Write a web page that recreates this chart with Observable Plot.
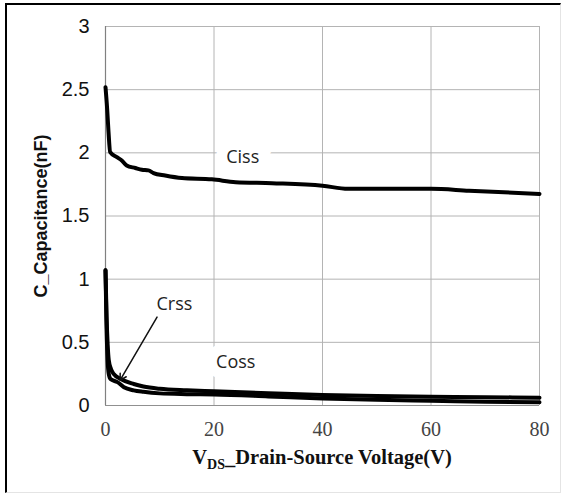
<!DOCTYPE html>
<html>
<head>
<meta charset="utf-8">
<script src="https://cdn.jsdelivr.net/npm/d3@7"></script>
<script src="https://cdn.jsdelivr.net/npm/@observablehq/plot@0.6"></script>
<style>
  html, body { margin: 0; padding: 0; background: #fff; }
  #wrap { position: relative; width: 567px; height: 496px; overflow: hidden; }
  #frame { position: absolute; left: 5px; top: 3px; width: 556px; height: 490px;
           border-top: 2px solid #000; border-left: 2px solid #000;
           border-right: 1px solid #e4e4e4; border-bottom: 1px solid #e4e4e4; box-sizing: border-box; }
  #chart { position: absolute; left: 0; top: 0; }
</style>
</head>
<body>
<div id="wrap"><div id="frame"></div><div id="chart"></div></div>
<script>
// ---- data ----
const xTicks = [0, 20, 40, 60, 80];
const yTicks = [0, 0.5, 1, 1.5, 2, 2.5, 3];

const cissV = [0, 0.3, 0.55, 0.86, 2.1, 3.0, 3.9, 5.5, 6.7, 7.9, 8.85, 11, 14.1, 19.6, 24, 30.7, 40, 44.7, 50.7, 60, 67, 80];
const cissC = [2.52, 2.35, 2.17, 2.006, 1.966, 1.94, 1.90, 1.88, 1.866, 1.861, 1.84, 1.82, 1.80, 1.79, 1.768, 1.76, 1.74, 1.715, 1.715, 1.715, 1.70, 1.675];

const cossV = [0, 0.2, 0.4, 0.6, 1.0, 1.5, 2.8, 5.2, 7, 10, 15, 20, 30, 40, 50, 60, 70, 80];
const cossC = [1.07, 0.7, 0.48, 0.36, 0.29, 0.25, 0.21, 0.17, 0.15, 0.132, 0.12, 0.112, 0.097, 0.083, 0.075, 0.07, 0.066, 0.062];

const crssV = [0, 0.2, 0.4, 0.6, 0.92, 2.2, 3.4, 5.2, 7, 10, 15, 20, 30, 40, 50, 60, 70, 80];
const crssC = [1.07, 0.6, 0.35, 0.25, 0.21, 0.185, 0.145, 0.12, 0.108, 0.096, 0.09, 0.087, 0.072, 0.055, 0.045, 0.038, 0.03, 0.025];

const labelNames = ["Ciss", "Crss", "Coss"];
const labelV = [25.3, 12.7, 24];
const labelC = [1.966, 0.80, 0.343];

const arrowFrom = [9.5, 0.70];
const arrowTo = [2.7, 0.20];

// ---- build tables ----
const toRows = (vs, cs) => vs.map((v, i) => ({v, c: cs[i]}));
const ciss = toRows(cissV, cissC);
const coss = toRows(cossV, cossC);
const crss = toRows(crssV, crssC);
const labels = labelNames.map((t, i) => ({t, v: labelV[i], c: labelC[i]}));
const arrows = [{x1: arrowFrom[0], y1: arrowFrom[1], x2: arrowTo[0], y2: arrowTo[1]}];

const plot = Plot.plot({
  width: 567,
  height: 496,
  marginLeft: 105,
  marginRight: 28,
  marginTop: 26,
  marginBottom: 91,
  style: {background: "transparent", overflow: "visible"},
  x: {domain: [0, 80], ticks: xTicks},
  y: {domain: [0, 3], ticks: yTicks},
  marks: [
    Plot.gridX(xTicks.filter(d => d > 0), {stroke: "#b4b4b4", strokeOpacity: 1, strokeWidth: 1}),
    Plot.gridY(yTicks.filter(d => d > 0), {stroke: "#b4b4b4", strokeOpacity: 1, strokeWidth: 1}),
    Plot.ruleX([0], {stroke: "#808080", strokeWidth: 1.2}),
    Plot.ruleY([0], {stroke: "#909090", strokeWidth: 1.2}),
    Plot.axisX({ticks: xTicks, tickSize: 0, tickPadding: 16, label: null,
      fontSize: 20, fontFamily: "Liberation Serif", fill: "#444", tickFormat: d => String(d)}),
    Plot.axisY({ticks: yTicks, tickSize: 0, tickPadding: 16, label: null,
      fontSize: 20, fontFamily: "Liberation Sans", fill: "#111", tickFormat: d => String(d)}),
    Plot.text(labels, {x: "v", y: "c", text: "t", fontSize: 18, fontFamily: "Open Sans",
      fill: "#222", stroke: "white", strokeWidth: 22, paintOrder: "stroke", strokeLinejoin: "miter"}),
    Plot.line(coss, {x: "v", y: "c", stroke: "#000", strokeWidth: 4, curve: "monotone-x"}),
    Plot.line(crss, {x: "v", y: "c", stroke: "#000", strokeWidth: 4, curve: "monotone-x"}),
    Plot.line(ciss, {x: "v", y: "c", stroke: "#000", strokeWidth: 4, curve: "monotone-x"}),
    Plot.arrow(arrows, {x1: "x1", y1: "y1", x2: "x2", y2: "y2", stroke: "#111", strokeWidth: 1.5,
      headLength: 7, bend: 0})
  ]
});

document.getElementById("chart").appendChild(plot);

// axis titles as real text
const svg = d3.select(plot);
svg.append("text")
  .attr("transform", "translate(47,216) rotate(-90)")
  .attr("text-anchor", "middle")
  .attr("font-family", "Liberation Sans, Arial, sans-serif")
  .attr("font-weight", "bold")
  .attr("font-size", 18)
  .attr("fill", "#111")
  .text("C_Capacitance(nF)");

const xt = svg.append("text")
  .attr("x", 322).attr("y", 464)
  .attr("text-anchor", "middle")
  .attr("font-family", "Liberation Serif, serif")
  .attr("font-weight", "bold")
  .attr("font-size", 20.5)
  .attr("fill", "#111");
xt.append("tspan").text("V");
xt.append("tspan").attr("font-size", 14).attr("dy", 5).text("DS");
xt.append("tspan").attr("dy", -5).text("_Drain-Source Voltage(V)");
</script>
</body>
</html>
